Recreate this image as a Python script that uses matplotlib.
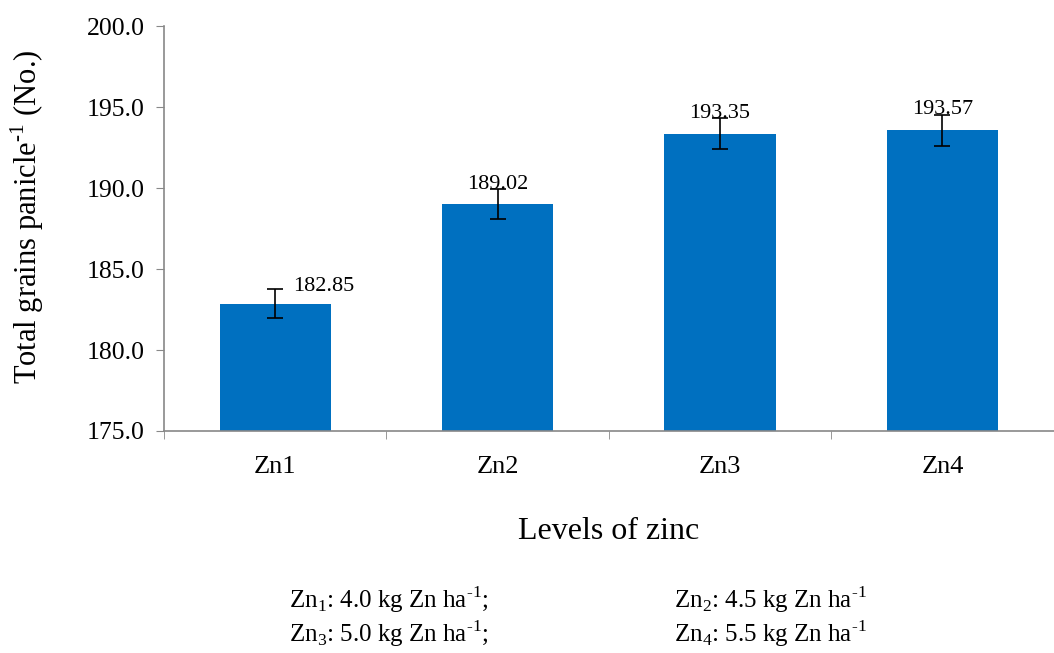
import matplotlib
matplotlib.use('Agg')
import matplotlib.pyplot as plt
import numpy as np

plt.rcParams['font.family'] = ['Liberation Serif', 'DejaVu Serif']
plt.rcParams['mathtext.fontset'] = 'custom'
plt.rcParams['mathtext.rm'] = 'Liberation Serif'

levels = ['Zn1', 'Zn2', 'Zn3', 'Zn4']
grains = [182.85, 189.02, 193.35, 193.57]
errors = [0.9, 0.9, 0.95, 0.95]

fig = plt.figure(figsize=(10.54, 6.53), dpi=100)
ax = fig.add_axes([0.1556, 0.340, 0.844, 0.620])

x = np.arange(len(levels))
ax.bar(x, grains, width=0.5, color='#0070C0', zorder=2)
ax.errorbar(x, grains, yerr=errors, fmt='none', ecolor='black',
            elinewidth=1.2, capsize=6, capthick=1.2, zorder=3)

# value labels; the first one sits to the right of its error bar
for i, (v, e) in enumerate(zip(grains, errors)):
    if i == 0:
        ax.text(i + 0.08, v + e * 0.55, f'{v:.2f}', ha='left', va='bottom', fontsize=16)
    else:
        ax.text(i, v + e * 0.7, f'{v:.2f}', ha='center', va='bottom', fontsize=16)

ax.set_ylim(175, 200)
ax.set_xlim(-0.5, 3.5)
yt = np.arange(175, 200.1, 5)
ax.set_yticks(yt)
ax.set_yticklabels([f'{t:.1f}' for t in yt], fontsize=18.5)
ax.set_xticks(x)
ax.set_xticklabels(levels, fontsize=19)
ax.tick_params(axis='x', length=0, pad=18)
ax.set_xticks(np.arange(-0.5, 3.6, 1), minor=True)
ax.tick_params(axis='x', which='minor', length=6, color='#888888', direction='out')
ax.tick_params(axis='y', length=6, color='#888888', direction='out', pad=8)

for side in ['top', 'right']:
    ax.spines[side].set_visible(False)
for side in ['left', 'bottom']:
    ax.spines[side].set_color('#888888')
    ax.spines[side].set_linewidth(1.2)

ax.set_ylabel(r'Total grains panicle$^{\text{-}1}$ (No.)', fontsize=22, labelpad=10)
ax.yaxis.set_label_coords(-0.133, 0.53)
ax.set_xlabel('Levels of zinc', fontsize=23, labelpad=28)

notes = [
    (0.274, 0.069, r'Zn$_1$: 4.0 kg Zn ha$^{\text{-}1}$;'),
    (0.639, 0.069, r'Zn$_2$: 4.5 kg Zn ha$^{\text{-}1}$'),
    (0.274, 0.017, r'Zn$_3$: 5.0 kg Zn ha$^{\text{-}1}$;'),
    (0.639, 0.017, r'Zn$_4$: 5.5 kg Zn ha$^{\text{-}1}$'),
]
for nx, ny, txt in notes:
    fig.text(nx, ny, txt, fontsize=18, ha='left', va='baseline')

fig.savefig('out.png', dpi=100)
